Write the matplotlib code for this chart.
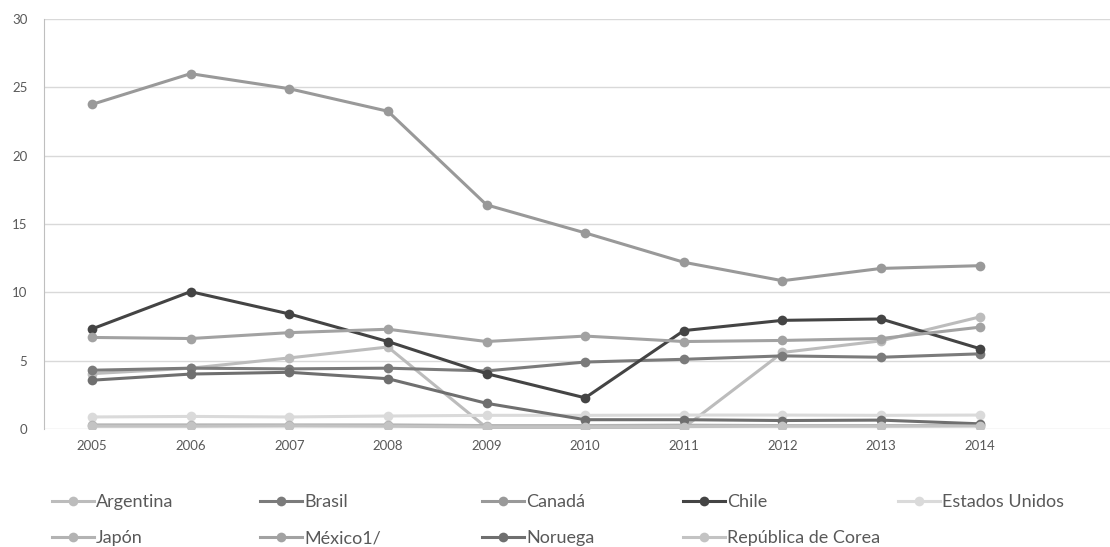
import matplotlib
matplotlib.use("Agg")
import matplotlib.pyplot as plt
from matplotlib.lines import Line2D

plt.rcParams['font.family'] = ['Lato', 'DejaVu Sans']

years = ["2005", "2006", "2007", "2008", "2009", "2010", "2011", "2012", "2013", "2014"]

argentina = [4.05, 4.45, 5.2, 6.0, 0.1, 0.1, 0.1, 5.6, 6.45, 8.2]
brasil = [4.3, 4.45, 4.4, 4.45, 4.25, 4.9, 5.1, 5.35, 5.25, 5.5]
canada = [23.75, 26.0, 24.9, 23.25, 16.4, 14.35, 12.2, 10.85, 11.75, 11.95]
chile = [7.32, 10.05, 8.42, 6.4, 4.05, 2.28, 7.2, 7.95, 8.05, 5.88]
estados_unidos = [0.88, 0.92, 0.88, 0.95, 1.0, 1.0, 1.02, 1.02, 1.0, 1.02]
japon = [0.3, 0.3, 0.3, 0.3, 0.25, 0.25, 0.28, 0.25, 0.25, 0.25]
mexico = [6.7, 6.62, 7.05, 7.3, 6.4, 6.8, 6.4, 6.48, 6.62, 7.45]
noruega = [3.57, 4.02, 4.15, 3.68, 1.88, 0.68, 0.68, 0.62, 0.65, 0.38]
corea = [0.2, 0.2, 0.22, 0.2, 0.15, 0.15, 0.18, 0.2, 0.2, 0.22]

series = [
    ("Argentina", argentina, "#bcbcbc"),
    ("Brasil", brasil, "#7b7b7b"),
    ("Canadá", canada, "#999999"),
    ("Chile", chile, "#444444"),
    ("Estados Unidos", estados_unidos, "#dadada"),
    ("Japón", japon, "#b3b3b3"),
    ("México1/", mexico, "#a2a2a2"),
    ("Noruega", noruega, "#6f6f6f"),
    ("República de Corea", corea, "#c3c3c3"),
]

fig = plt.figure(figsize=(11.1, 5.47), dpi=100)
ax = fig.add_axes([44 / 1110, 1 - 429 / 547, 1 - 44 / 1110, 410 / 547])

x = list(range(len(years)))
for name, vals, color in series:
    ax.plot(x, vals, color=color, lw=2.2, marker="o", markersize=7,
            markeredgewidth=0, solid_capstyle="round", zorder=3)

ax.set_xlim(-0.486, 10.32)
ax.set_ylim(0, 30)
ax.set_yticks(range(0, 31, 5))
ax.set_xticks(x)
ax.set_xticklabels(years)
ax.grid(axis="y", color="#d9d9d9", lw=1)
ax.set_axisbelow(True)
for side in ("top", "right", "bottom"):
    ax.spines[side].set_visible(False)
ax.spines["left"].set_color("#bfbfbf")
ax.tick_params(length=0, colors="#595959", labelsize=9.5, pad=8)
ax.tick_params(axis="y", pad=12)

# legend: five columns, two rows
col_x = [52, 260, 482, 683, 898]
row_y = [502, 538]
for i, (name, vals, color) in enumerate(series):
    handle = Line2D([], [], color=color, lw=2.2, marker="o", markersize=7,
                    markeredgewidth=0)
    lx = col_x[i % 5] / 1110
    ly = 1 - row_y[i // 5] / 547
    fig.legend([handle], [name], loc="center left", bbox_to_anchor=(lx, ly),
               frameon=False, fontsize=13, handlelength=2.3, handletextpad=0.15,
               borderpad=0, borderaxespad=0, labelcolor="#595959")

fig.savefig("out.png", dpi=100)
